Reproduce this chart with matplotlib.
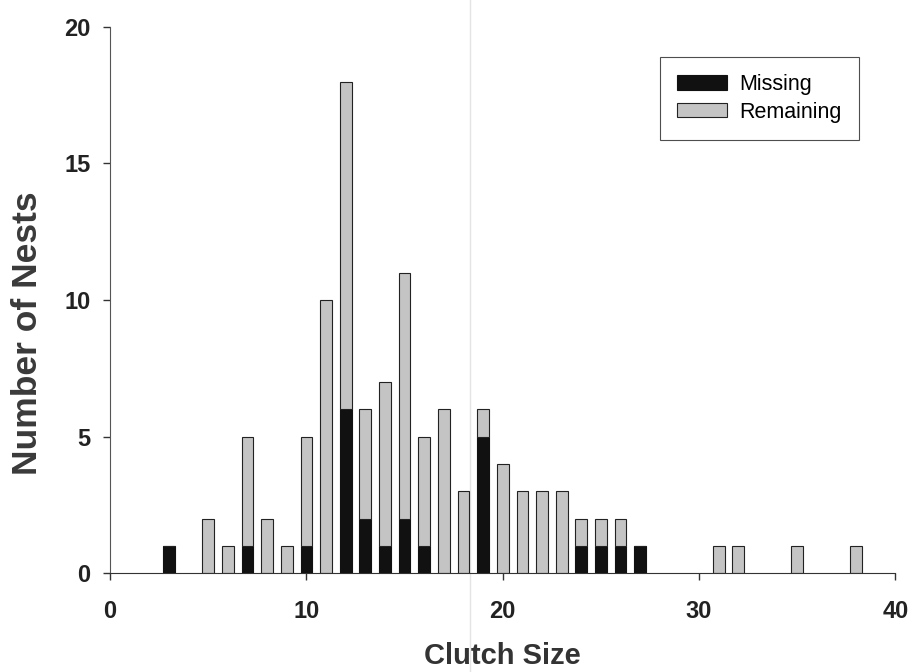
import matplotlib.pyplot as plt
from matplotlib.lines import Line2D
import numpy as np

clutch_size = [3, 5, 6, 7, 8, 9, 10, 11, 12, 13, 14, 15, 16, 17, 18, 19, 20,
               21, 22, 23, 24, 25, 26, 27, 31, 32, 35, 38]
missing = [1, 0, 0, 1, 0, 0, 1, 0, 6, 2, 1, 2, 1, 0, 0, 5, 0,
           0, 0, 0, 1, 1, 1, 1, 0, 0, 0, 0]
total = [1, 2, 1, 5, 2, 1, 5, 10, 18, 6, 7, 11, 5, 6, 3, 6, 4,
         3, 3, 3, 2, 2, 2, 1, 1, 1, 1, 1]
remaining = [t - m for t, m in zip(total, missing)]

plt.rcParams["font.family"] = ["Liberation Sans", "DejaVu Sans"]
fig = plt.figure(figsize=(9.1, 6.72), dpi=100)
ax = fig.add_axes([0.121, 0.147, 0.863, 0.813])
ax.patch.set_alpha(0)

# faint scan fold in the original
fig.add_artist(Line2D([0.516, 0.516], [0, 1], transform=fig.transFigure,
                      color="#e4e4e4", linewidth=1, zorder=0))

x = np.array(clutch_size)
ax.bar(x, missing, width=0.6, color="#111111", edgecolor="#111111",
       linewidth=0.8, label="Missing")
ax.bar(x, remaining, width=0.6, bottom=missing, color="#c4c4c4",
       edgecolor="#222222", linewidth=0.8, label="Remaining")

ax.set_xlim(0, 40)
ax.set_ylim(0, 20)
ax.set_xticks([0, 10, 20, 30, 40])
ax.set_yticks([0, 5, 10, 15, 20])
ax.spines["top"].set_visible(False)
ax.spines["right"].set_visible(False)
ax.spines["left"].set_color("#555555")
ax.spines["bottom"].set_color("#333333")
ax.tick_params(direction="out", length=5, width=1, colors="#333333",
               labelsize=17)
ax.tick_params(axis="x", pad=14)
ax.tick_params(axis="y", pad=9)
for lab in ax.get_xticklabels() + ax.get_yticklabels():
    lab.set_fontweight("bold")
    lab.set_color("#222222")

ax.set_xlabel("Clutch Size", fontsize=21, fontweight="bold",
              color="#333333", labelpad=14)
ax.set_ylabel("Number of Nests", fontsize=25.5, fontweight="bold",
              color="#3a3a3a")
ax.yaxis.set_label_coords(-0.084, 0.44)

leg = ax.legend(loc="upper left", bbox_to_anchor=(0.70, 0.945),
                fontsize=15.5, frameon=True, fancybox=False,
                handlelength=2.3, handleheight=0.65, handletextpad=0.6,
                borderpad=0.8, labelspacing=0.3, borderaxespad=0)
leg.get_frame().set_edgecolor("#222222")
leg.get_frame().set_linewidth(0.8)

fig.savefig("out.png", dpi=100)
